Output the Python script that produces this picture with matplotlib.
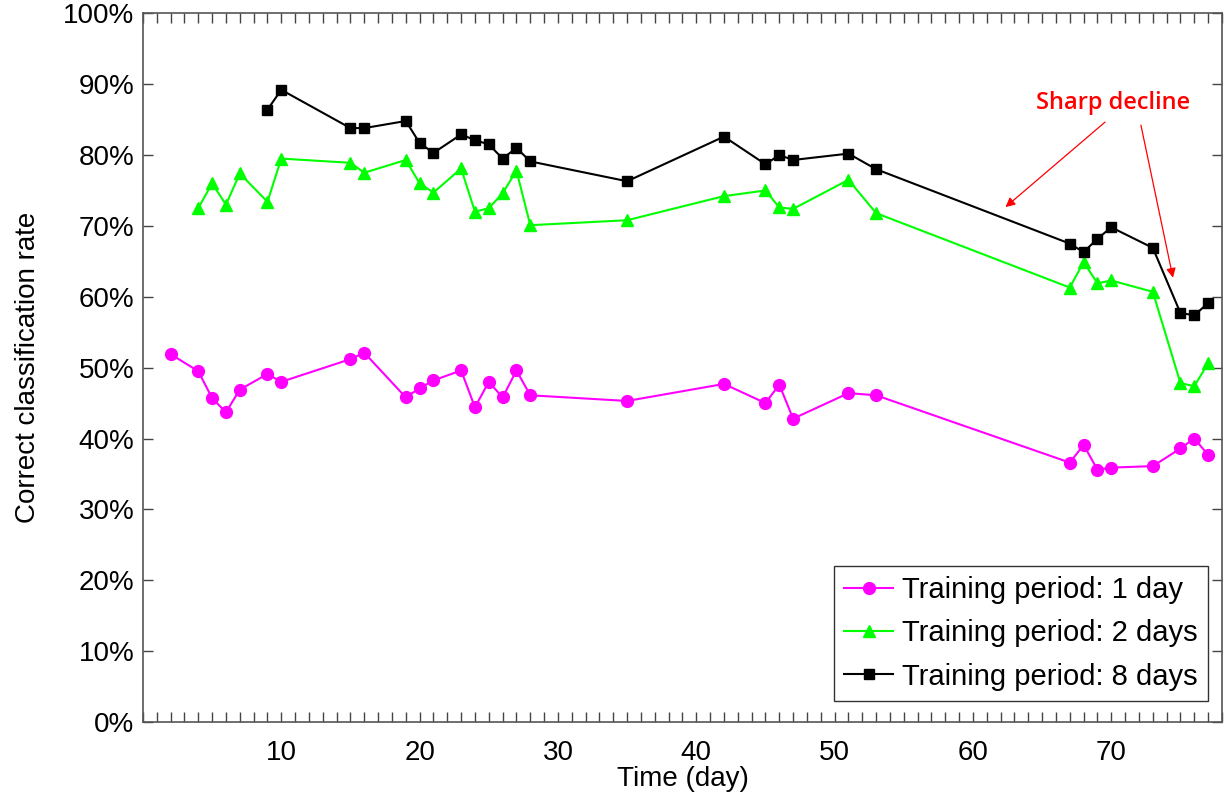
#!/usr/bin/env python
# -*- coding: utf-8 -*-

# Correct classification rate over time for three training periods

import matplotlib
matplotlib.use('Agg')
import matplotlib.pyplot as plt
from matplotlib.ticker import MultipleLocator, FuncFormatter

plt.rcParams['font.family'] = ['Liberation Sans', 'DejaVu Sans']

# Training period: 1 day
days_1 = [2, 4, 5, 6, 7, 9, 10, 15, 16, 19, 20, 21, 23, 24, 25, 26, 27, 28,
          35, 42, 45, 46, 47, 51, 53, 67, 68, 69, 70, 73, 75, 76, 77]
rate_1 = [51.9, 49.5, 45.7, 43.7, 46.9, 49.1, 48.0, 51.2, 52.1, 45.8, 47.1, 48.2,
          49.6, 44.4, 48.0, 45.8, 49.6, 46.1, 45.3, 47.7, 45.0, 47.6, 42.8, 46.4,
          46.1, 36.6, 39.1, 35.6, 35.9, 36.1, 38.6, 40.0, 37.7]

# Training period: 2 days
days_2 = [4, 5, 6, 7, 9, 10, 15, 16, 19, 20, 21, 23, 24, 25, 26, 27, 28,
          35, 42, 45, 46, 47, 51, 53, 67, 68, 69, 70, 73, 75, 76, 77]
rate_2 = [72.5, 76.0, 73.0, 77.4, 73.4, 79.5, 78.9, 77.5, 79.3, 76.0, 74.7, 78.1,
          72.0, 72.5, 74.6, 77.8, 70.1, 70.8, 74.2, 75.0, 72.6, 72.4, 76.5, 71.8,
          61.3, 64.9, 61.9, 62.3, 60.7, 47.8, 47.4, 50.6]

# Training period: 8 days
days_8 = [9, 10, 15, 16, 19, 20, 21, 23, 24, 25, 26, 27, 28,
          35, 42, 45, 46, 47, 51, 53, 67, 68, 69, 70, 73, 75, 76, 77]
rate_8 = [86.4, 89.2, 83.8, 83.8, 84.8, 81.7, 80.3, 82.9, 82.1, 81.5, 79.5, 81.0,
          79.1, 76.3, 82.6, 78.7, 80.0, 79.3, 80.2, 78.0, 67.5, 66.3, 68.2, 69.8,
          66.9, 57.7, 57.4, 59.1]

labels = ['Training period: 1 day', 'Training period: 2 days', 'Training period: 8 days']

fs = 20

fig = plt.figure(figsize=(12.27, 8.05), dpi=100)
ax = fig.add_axes([0.1165, 0.1031, 0.8794, 0.8804])

ax.plot(days_1, rate_1, '-o', color='#ff00ff', lw=1.5, ms=8.5, label=labels[0])
ax.plot(days_2, rate_2, '-^', color='#00ff00', lw=1.5, ms=9, label=labels[1])
ax.plot(days_8, rate_8, '-s', color='black', lw=1.5, ms=7.5, label=labels[2])

ax.set_xlim(0, 78)
ax.set_ylim(0, 100)

ax.xaxis.set_major_locator(MultipleLocator(10))
ax.xaxis.set_minor_locator(MultipleLocator(1))
ax.yaxis.set_major_locator(MultipleLocator(10))
ax.yaxis.set_major_formatter(FuncFormatter(lambda v, p: '%d%%' % v))
ax.xaxis.set_major_formatter(FuncFormatter(lambda v, p: '' if v == 0 else '%d' % v))

ax.tick_params(which='both', direction='in', top=True, right=True,
               color='#444444', width=1, labelsize=fs)
ax.tick_params(axis='x', which='both', length=7, pad=13)
ax.tick_params(axis='y', which='major', length=7, pad=6)
for s in ax.spines.values():
    s.set_color('#555555')
    s.set_linewidth(1.2)

ax.set_xlabel('Time (day)', fontsize=fs, labelpad=0)
ax.set_ylabel('Correct classification rate', fontsize=fs, labelpad=16)

leg = ax.legend(loc='lower right', bbox_to_anchor=(0.987, 0.03), borderaxespad=0,
                fontsize=21, fancybox=False, edgecolor='black',
                handlelength=1.7, handletextpad=0.3, labelspacing=0.52,
                borderpad=0.35)
leg.get_frame().set_linewidth(1.0)

# annotation
ax.text(70.1, 87.3, 'Sharp decline', color='red', fontsize=17, ha='center',
        va='center', family=['Open Sans', 'DejaVu Sans'], fontweight='semibold')
ax.annotate('', xy=(62.2, 72.4), xytext=(69.7, 84.9),
            arrowprops=dict(arrowstyle='-|>', color='red', lw=0.9,
                            mutation_scale=14))
ax.annotate('', xy=(74.5, 62.3), xytext=(72.1, 84.6),
            arrowprops=dict(arrowstyle='-|>', color='red', lw=0.9,
                            mutation_scale=14))

plt.savefig('out.png', dpi=100)
